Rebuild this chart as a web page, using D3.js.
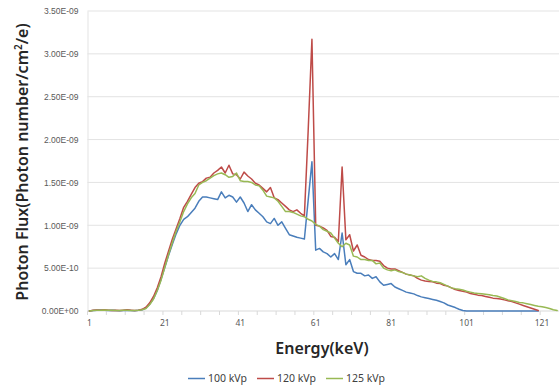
<!DOCTYPE html>
<html>
<head>
<meta charset="utf-8">
<script src="https://cdn.jsdelivr.net/npm/d3@7"></script>
<style>
  body { margin: 0; background: #fff; }
  svg { display: block; font-family: "Noto Sans", "Open Sans", sans-serif; }
</style>
</head>
<body>
<svg id="chart"></svg>
<script>
// values are in units of 1e-10 photons/cm2/e
const UNIT = 1e-10;

const series = ["100 kVp", "120 kVp", "125 kVp"];

const flux100 = [
  0.0, 0.05, 0.1, 0.12, 0.08, 0.05, 0.1, 0.06, 0.03, 0.05,
  0.08, 0.05, 0.04, 0.08, 0.15, 0.35, 0.8, 1.45, 2.4, 3.7,
  5.1, 6.5, 7.8, 9.0, 10.0, 10.7, 11.0, 11.5, 12.0, 12.8,
  13.3, 13.3, 13.2, 13.1, 13.0, 13.9, 13.2, 13.5, 13.3, 12.7,
  13.3, 12.6, 11.6, 12.4, 11.8, 11.4, 11.0, 10.4, 10.2, 10.8,
  10.0, 10.4, 9.65, 8.9, 8.75, 8.6, 8.5, 8.4, 12.9, 17.4,
  7.1, 7.3, 6.9, 6.7, 6.3, 6.7, 6.0, 9.1, 5.4, 6.0,
  4.6, 4.4, 4.4, 4.1, 4.2, 3.8, 4.0, 3.4, 3.0, 3.1,
  3.2, 2.8, 2.6, 2.4, 2.2, 2.1, 2.0, 1.8, 1.65, 1.55,
  1.45, 1.35, 1.25, 1.1, 0.95, 0.7, 0.55, 0.4, 0.2, 0.05,
  0, 0, 0, 0, 0, 0, 0, 0, 0, 0,
  0, 0, 0, 0, 0, 0, 0, 0, 0, 0
];

const flux120 = [
  0.0, 0.08, 0.12, 0.1, 0.15, 0.1, 0.05, 0.08, 0.05, 0.1,
  0.15, 0.1, 0.05, 0.1, 0.2, 0.45, 0.95, 1.7, 2.7, 4.0,
  5.6, 7.0, 8.4, 9.6, 10.8, 12.1, 12.8, 13.6, 14.4, 14.9,
  15.1, 15.5, 15.6, 16.1, 16.4, 16.8, 16.1, 17.0, 16.0, 15.9,
  15.4, 16.2, 15.75, 15.4, 14.9, 14.7, 14.3, 13.9, 14.4, 13.2,
  13.0, 12.6, 12.2, 11.8, 11.6, 11.8, 11.4, 11.1, 21.0, 31.7,
  10.0, 9.9, 9.7, 9.4, 8.7, 8.6, 8.1, 16.8, 8.3, 8.9,
  7.0, 7.7, 6.5, 6.3, 6.0, 5.9, 5.9, 5.8, 5.3, 5.0,
  4.9, 4.9, 4.7, 4.5, 4.3, 4.2, 4.1, 3.8, 3.6, 3.5,
  3.45, 3.4, 3.25, 3.2, 3.0, 2.9, 2.7, 2.5, 2.4, 2.3,
  2.2, 2.05, 1.95, 1.85, 1.8, 1.7, 1.6, 1.5, 1.45, 1.4,
  1.3, 1.2, 1.1, 0.95, 0.8, 0.65, 0.5, 0.35, 0.2, 0.05
];

const flux125 = [
  0.0, 0.05, 0.08, 0.1, 0.12, 0.08, 0.1, 0.05, 0.05, 0.08,
  0.1, 0.06, 0.05, 0.08, 0.15, 0.3, 0.75, 1.4, 2.4, 3.6,
  5.1, 6.6, 8.0, 9.3, 10.4, 11.6, 12.5, 13.2, 13.7, 14.7,
  15.0, 15.2, 15.5, 15.8, 16.0, 16.1, 15.9, 15.6, 15.7, 16.1,
  15.2, 15.1, 15.1, 15.0, 14.7, 14.6, 14.1, 13.4, 13.3, 13.2,
  12.8, 12.2, 11.6, 11.6, 11.5, 11.3, 11.1, 11.0, 10.7, 10.5,
  10.1, 9.9, 9.5, 9.3, 9.1, 8.5, 7.9, 7.5, 7.9, 7.7,
  6.4, 6.3, 6.0, 6.0, 5.9, 5.9, 5.5, 5.6, 5.0, 4.8,
  4.7, 4.8, 4.6, 4.5, 4.3, 4.2, 4.1, 4.0, 4.1, 3.8,
  3.6, 3.45, 3.4, 3.3, 3.1, 2.9, 2.7, 2.6, 2.55, 2.45,
  2.3, 2.2, 2.1, 2.05, 2.0, 1.95, 1.9, 1.8, 1.75, 1.6,
  1.45, 1.3, 1.2, 1.1, 1.0, 0.95, 0.85, 0.75, 0.65, 0.55,
  0.5, 0.4, 0.3, 0.15, 0.05
];

const energies = d3.range(1, flux125.length + 1);   // keV categories 1..125
const xTickLabels = [1, 21, 41, 61, 81, 101, 121];
const yTicks = [0, 5e-10, 1e-9, 1.5e-9, 2e-9, 2.5e-9, 3e-9, 3.5e-9];
const colors = ["#4a7ebb", "#be4b48", "#98b954"];

drawChart();

function sciLabel(v) {
  if (v === 0) return "0.00E+00";
  let s = d3.format(".2e")(v);         // e.g. 3.50e-9
  let parts = s.split("e");
  let exp = +parts[1];
  let sign = exp < 0 ? "-" : "+";
  let digits = String(Math.abs(exp)).padStart(2, "0");
  return parts[0] + "E" + sign + digits;
}

function drawChart() {
  let svgWidth = 559, svgHeight = 388;
  let plot = { left: 87.5, right: 559, top: 11, bottom: 311 };

  let svg = d3.select("#chart")
    .attr("width", svgWidth)
    .attr("height", svgHeight);

  let x = d3.scaleBand()
    .domain(energies)
    .range([plot.left, plot.right]);

  let y = d3.scaleLinear()
    .domain([0, 3.5e-9])
    .range([plot.bottom, plot.top]);

  // horizontal gridlines
  svg.append("g")
    .selectAll("line")
    .data(yTicks.slice(1))
    .join("line")
    .attr("x1", plot.left)
    .attr("x2", plot.right)
    .attr("y1", d => y(d))
    .attr("y2", d => y(d))
    .attr("stroke", "#e3e3e3")
    .attr("stroke-width", 1);

  // y axis
  let yAxis = svg.append("g")
    .attr("transform", "translate(" + plot.left + ",0)")
    .call(d3.axisLeft(y).tickValues(yTicks).tickFormat(sciLabel).tickSize(0).tickPadding(9));
  yAxis.select(".domain").attr("stroke", "#e3e3e3");
  yAxis.selectAll("text")
    .attr("fill", "#595959")
    .style("font-size", "8.5px");

  // x axis: tick marks every 5 categories, labels every 20
  let bw = x.bandwidth();
  let xAxis = svg.append("g")
    .attr("transform", "translate(0," + plot.bottom + ")");
  xAxis.append("line")
    .attr("x1", plot.left)
    .attr("x2", plot.right)
    .attr("stroke", "#d9d9d9");
  xAxis.selectAll(".tickmark")
    .data(energies.filter(e => (e - 1) % 5 === 0))
    .join("line")
    .attr("class", "tickmark")
    .attr("x1", d => x(d))
    .attr("x2", d => x(d))
    .attr("y1", 0)
    .attr("y2", 4)
    .attr("stroke", "#d9d9d9");
  xAxis.selectAll(".ticklabel")
    .data(xTickLabels)
    .join("text")
    .attr("class", "ticklabel")
    .attr("x", d => x(d) + bw / 2)
    .attr("y", 15)
    .attr("text-anchor", "middle")
    .attr("fill", "#595959")
    .style("font-size", "8.5px")
    .text(d => d);

  // series lines
  let line = d3.line()
    .x((d, i) => x(energies[i]) + bw / 2)
    .y(d => y(d * UNIT));

  [flux100, flux120, flux125].forEach((arr, i) => {
    svg.append("path")
      .datum(arr)
      .attr("fill", "none")
      .attr("stroke", colors[i])
      .attr("stroke-width", 1.5)
      .attr("stroke-linejoin", "round")
      .attr("stroke-linecap", "round")
      .attr("d", line);
  });

  // axis titles
  svg.append("text")
    .attr("transform", "translate(28," + ((plot.top + plot.bottom) / 2 + 1) + ") rotate(-90)")
    .attr("text-anchor", "middle")
    .attr("fill", "#262626")
    .style("font-size", "16px")
    .style("font-weight", 600)
    .html("Photon Flux(Photon number/cm<tspan font-size='10px' dy='-6'>2</tspan><tspan dy='6'>/e)</tspan>");

  svg.append("text")
    .attr("x", 322)
    .attr("y", 354)
    .attr("text-anchor", "middle")
    .attr("fill", "#262626")
    .style("font-size", "16px")
    .style("font-weight", 600)
    .text("Energy(keV)");

  // legend
  let legendX = [188, 257, 326];
  let legend = svg.append("g");
  series.forEach((name, i) => {
    legend.append("line")
      .attr("x1", legendX[i])
      .attr("x2", legendX[i] + 17)
      .attr("y1", 378.5)
      .attr("y2", 378.5)
      .attr("stroke", colors[i])
      .attr("stroke-width", 1.5);
    legend.append("text")
      .attr("x", legendX[i] + 20)
      .attr("y", 382)
      .attr("fill", "#404040")
      .style("font-size", "10.5px")
      .text(name);
  });
}
</script>
</body>
</html>
